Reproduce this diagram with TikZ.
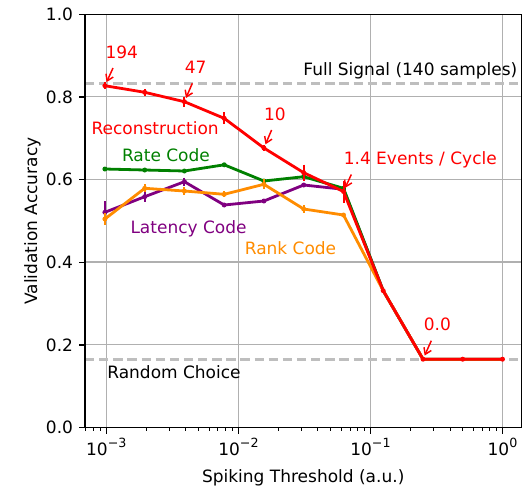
\documentclass[tikz,border=0pt]{standalone}
\usepackage{fontspec}
\setmainfont{DejaVu Sans}
\usetikzlibrary{arrows.meta}

\definecolor{gridgray}{RGB}{176,176,176}
\definecolor{dashgray}{RGB}{190,190,190}
\definecolor{rateg}{RGB}{0,128,0}
\definecolor{latp}{RGB}{128,0,128}
\definecolor{ranko}{RGB}{255,140,0}

\newcommand{\tenpow}[1]{10\raisebox{0.45em}{\fontsize{9.5}{9.5}\selectfont #1}}

\tikzset{every picture/.style={line width=0.75pt}}
\tikzset{
  lbl/.style={inner sep=0pt, font=\fontsize{12.75}{15}\selectfont},
  gridline/.style={gridgray, line width=1pt},
  refline/.style={dashgray, line width=2.2pt, dash pattern=on 7pt off 3.6pt},
  series/.style={line width=2.1pt, line join=round},
  errbar/.style={line width=1.5pt},
  pointer/.style={red, line width=1.1pt, -{Straight Barb[length=4.5pt,width=6pt]}, shorten >=3pt},
}

\begin{document}
\begin{tikzpicture}[x=0.75pt,y=0.75pt,yscale=-1,xscale=1]
%set diagram to 530 x 489
\useasboundingbox (0,0) rectangle (530,489);

%Grid
\draw [gridline] (106.3,14.3) -- (106.3,427.8) (238.4,14.3) -- (238.4,427.8) (370.4,14.3) -- (370.4,427.8) (502.5,14.3) -- (502.5,427.8) ;
\draw [gridline] (85,96.7) -- (521.5,96.7) (85,179.4) -- (521.5,179.4) (85,262.1) -- (521.5,262.1) (85,344.8) -- (521.5,344.8) ;

%Dashed reference levels
\draw [refline] (85,83.2) -- (521.5,83.2) ;
\draw [refline] (85,359.2) -- (521.5,359.2) ;

%Latency code
\draw [latp, series] (104.9,212.3) -- (144.7,196.7) -- (184.4,181.7) -- (224.2,205) -- (263.9,201) -- (303.7,185) -- (343.5,189.3) -- (383.2,290.7) -- (423,359.2) -- (462.7,359.2) -- (502.5,359.2) ;
\draw [latp, errbar] (104.9,201.3) -- (104.9,223.3) (144.7,191.7) -- (144.7,201.7) (184.4,177.7) -- (184.4,185.7) (224.2,203) -- (224.2,207) (263.9,199) -- (263.9,203) (303.7,183) -- (303.7,187) (343.5,187.3) -- (343.5,191.3) ;
\fill [latp] (104.9,212.3) circle (2.5) (144.7,196.7) circle (2.5) (184.4,181.7) circle (2.5) (224.2,205) circle (2.5) (263.9,201) circle (2.5) (303.7,185) circle (2.5) (343.5,189.3) circle (2.5) ;

%Rate code
\draw [rateg, series] (104.9,169) -- (144.7,170) -- (184.4,171) -- (224.2,164.8) -- (263.9,181) -- (303.7,176.7) -- (343.5,188.3) -- (383.2,290.7) -- (423,359.2) -- (462.7,359.2) -- (502.5,359.2) ;
\draw [rateg, errbar] (104.9,167) -- (104.9,171) (144.7,168) -- (144.7,172) (184.4,169) -- (184.4,173) (224.2,162.8) -- (224.2,166.8) (263.9,179) -- (263.9,183) (303.7,174.7) -- (303.7,178.7) (343.5,186.3) -- (343.5,190.3) ;
\fill [rateg] (104.9,169) circle (2.5) (144.7,170) circle (2.5) (184.4,171) circle (2.5) (224.2,164.8) circle (2.5) (263.9,181) circle (2.5) (303.7,176.7) circle (2.5) (343.5,188.3) circle (2.5) ;

%Rank code
\draw [ranko, series] (104.9,219) -- (144.7,188.3) -- (184.4,191) -- (224.2,194.3) -- (263.9,184.3) -- (303.7,209) -- (343.5,215) -- (383.2,290.7) -- (423,359.2) -- (462.7,359.2) -- (502.5,359.2) ;
\draw [ranko, errbar] (104.9,213) -- (104.9,225) (144.7,184.3) -- (144.7,192.3) (184.4,187) -- (184.4,195) (224.2,191.3) -- (224.2,197.3) (263.9,179.3) -- (263.9,189.3) (303.7,205) -- (303.7,213) (343.5,213) -- (343.5,217) ;
\fill [ranko] (104.9,219) circle (2.5) (144.7,188.3) circle (2.5) (184.4,191) circle (2.5) (224.2,194.3) circle (2.5) (263.9,184.3) circle (2.5) (303.7,209) circle (2.5) (343.5,215) circle (2.5) ;

%Reconstruction
\draw [red, series] (104.9,85.7) -- (144.7,92.3) -- (184.4,101.7) -- (224.2,118.3) -- (263.9,148) -- (303.7,172.7) -- (343.5,191.5) -- (383.2,290.7) -- (423,359.2) -- (462.7,359.2) -- (502.5,359.2) ;
\draw [red, errbar] (104.9,82.2) -- (104.9,89.2) (144.7,88.8) -- (144.7,95.8) (184.4,96.7) -- (184.4,106.7) (224.2,112.3) -- (224.2,124.3) (263.9,145) -- (263.9,151) (303.7,164.7) -- (303.7,180.7) (343.5,180.5) -- (343.5,202.5) ;
\fill [red] (104.9,85.7) circle (2.5) (144.7,92.3) circle (2.5) (184.4,101.7) circle (2.5) (224.2,118.3) circle (2.5) (263.9,148) circle (2.5) (303.7,172.7) circle (2.5) (343.5,191.5) circle (2.5) (383.2,290.7) circle (2.5) (423,359.2) circle (2.5) (462.7,359.2) circle (2.5) (502.5,359.2) circle (2.5) ;

%Annotated points
\coordinate (p194) at (104.9,85.7) ;
\coordinate (p47) at (184.4,101.7) ;
\coordinate (p10) at (263.9,148) ;
\coordinate (pcyc) at (343.5,191.5) ;
\coordinate (pzero) at (423,359.2) ;

%Axes frame and ticks
\draw [line width=1pt] (85,14.3) rectangle (521.5,427.8) ;
\draw [line width=1pt] (85,14.3) -- (79,14.3) (85,97) -- (79,97) (85,179.7) -- (79,179.7) (85,262.4) -- (79,262.4) (85,345.1) -- (79,345.1) (85,427.8) -- (79,427.8) ;
\draw [line width=1pt] (106.3,427.8) -- (106.3,433.8) (238.4,427.8) -- (238.4,433.8) (370.4,427.8) -- (370.4,433.8) (502.5,427.8) -- (502.5,433.8) ;
\draw [line width=0.75pt] (85.8,427.8) -- (85.8,431.4) (93.5,427.8) -- (93.5,431.4) (100.3,427.8) -- (100.3,431.4)
  (146.1,427.8) -- (146.1,431.4) (169.3,427.8) -- (169.3,431.4) (185.8,427.8) -- (185.8,431.4) (198.6,427.8) -- (198.6,431.4) (209.1,427.8) -- (209.1,431.4) (217.9,427.8) -- (217.9,431.4) (225.6,427.8) -- (225.6,431.4) (232.3,427.8) -- (232.3,431.4)
  (278.1,427.8) -- (278.1,431.4) (301.4,427.8) -- (301.4,431.4) (317.9,427.8) -- (317.9,431.4) (330.7,427.8) -- (330.7,431.4) (341.1,427.8) -- (341.1,431.4) (350,427.8) -- (350,431.4) (357.6,427.8) -- (357.6,431.4) (364.4,427.8) -- (364.4,431.4)
  (410.2,427.8) -- (410.2,431.4) (433.5,427.8) -- (433.5,431.4) (450,427.8) -- (450,431.4) (462.8,427.8) -- (462.8,431.4) (473.2,427.8) -- (473.2,431.4) (482.1,427.8) -- (482.1,431.4) (489.7,427.8) -- (489.7,431.4) (496.5,427.8) -- (496.5,431.4) ;

% Tick labels
\draw (73.5,14.3) node [anchor=east][lbl] (y10) {1.0};
\draw (73.5,97) node [anchor=east][lbl] (y08) {0.8};
\draw (73.5,179.7) node [anchor=east][lbl] (y06) {0.6};
\draw (73.5,262.4) node [anchor=east][lbl] (y04) {0.4};
\draw (73.5,345.1) node [anchor=east][lbl] (y02) {0.2};
\draw (73.5,427.8) node [anchor=east][lbl] (y00) {0.0};
\draw (106.3,455.5) node [anchor=base][lbl] (xm3) {\tenpow{−3}};
\draw (238.4,455.5) node [anchor=base][lbl] (xm2) {\tenpow{−2}};
\draw (370.4,455.5) node [anchor=base][lbl] (xm1) {\tenpow{−1}};
\draw (502.5,455.5) node [anchor=base][lbl] (x0) {\tenpow{0}};

% Axis titles
\draw (303.2,482) node [anchor=base][lbl] (xtitle) {Spiking Threshold (a.u.)};
\draw (37,221) node [anchor=base, rotate=90][lbl] (ytitle) {Validation Accuracy};

% Series names
\draw (91,134.5) node [anchor=base west][lbl][red] (nrec) {Reconstruction};
\draw (121.5,161.5) node [anchor=base west][lbl][rateg] (nrate) {Rate Code};
\draw (130,233.3) node [anchor=base west][lbl][latp] (nlat) {Latency Code};
\draw (244.3,254) node [anchor=base west][lbl][ranko] (nrank) {Rank Code};
\draw (517.8,75.7) node [anchor=base east][lbl] (nfull) {Full Signal (140 samples)};
\draw (106.8,378) node [anchor=base west][lbl] (nrand) {Random Choice};

% Annotations
\draw (105,58) node [anchor=base west][lbl][red] (n194) {194};
\draw (184.3,73.3) node [anchor=base west][lbl][red] (n47) {47};
\draw (263.6,120) node [anchor=base west][lbl][red] (n10) {10};
\draw (343.3,164.5) node [anchor=base west][lbl][red] (ncyc) {1.4 Events / Cycle};
\draw (423.3,330.7) node [anchor=base west][lbl][red] (nzero) {0.0};
\draw [pointer] ([shift={(8,10)}]n194.base west) -- (p194) ;
\draw [pointer] ([shift={(8,10)}]n47.base west) -- (p47) ;
\draw [pointer] ([shift={(8,10)}]n10.base west) -- (p10) ;
\draw [pointer] ([shift={(8,10)}]ncyc.base west) -- (pcyc) ;
\draw [pointer] ([shift={(8,10)}]nzero.base west) -- (pzero) ;

\end{tikzpicture}
\end{document}
